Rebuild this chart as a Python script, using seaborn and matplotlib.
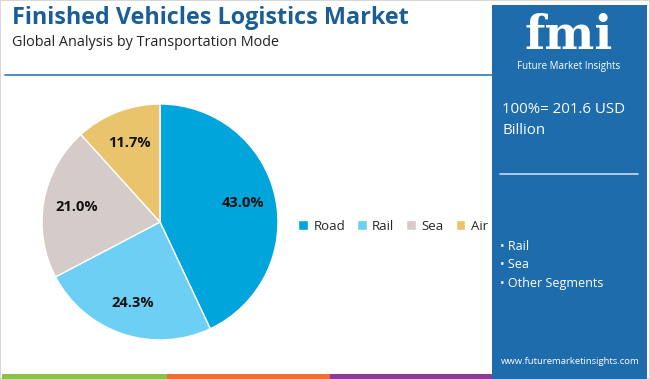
import matplotlib
matplotlib.use("Agg")
import matplotlib.pyplot as plt
import seaborn as sns
from matplotlib.patches import Rectangle
from matplotlib.lines import Line2D

# data
modes = ["Road", "Rail", "Sea", "Air"]
shares = [43.0, 24.3, 21.0, 11.7]
mode_colors = ["#00a5dc", "#6ccff3", "#d5cbc8", "#e9c46c"]
panel_bullets = ["Rail", "Sea", "Other Segments"]
total_text = "100%= 201.6 USD\nBillion"

sns.set_theme(style="white")
plt.rcParams['font.family'] = ['Open Sans', 'DejaVu Sans']

W, H = 650, 379
fig = plt.figure(figsize=(6.5, 3.79), dpi=100)
fig.patch.set_facecolor("white")

def fx(px):
    return px / W

def fy(py):
    return 1 - py / H

# thin grey frame
fig.add_artist(Rectangle((0, 0), 1, 1, transform=fig.transFigure, fill=False,
                         edgecolor="#d8d8d8", linewidth=1.5))

# title block
fig.text(fx(12), fy(18), "Finished Vehicles Logistics Market", fontsize=16.8,
         fontweight="bold", color="#1b5e96", va="center", ha="left")
fig.text(fx(12), fy(42), "Global Analysis by Transportation Mode", fontsize=10.4,
         color="#222222", va="center", ha="left")
fig.add_artist(Line2D([fx(5), fx(492)], [fy(75), fy(75)], transform=fig.transFigure,
                      color="#3d85bd", linewidth=1.3))

# pie
palette = sns.color_palette(mode_colors)
ax = fig.add_axes([fx(42), fy(340), fx(236), 236 / H])
wedges, texts, autotexts = ax.pie(shares, colors=palette, startangle=90, counterclock=False,
                                  autopct="%.1f%%", pctdistance=0.72,
                                  textprops=dict(fontsize=10.5, fontweight="bold", color="#111111"))
ax.set_xlim(-1, 1)
ax.set_ylim(-1, 1)
ax.set_axis_off()

# legend
fig.legend(wedges, modes, loc="center", bbox_to_anchor=(fx(393), fy(226)), ncol=4,
           frameon=False, fontsize=9.5, handlelength=0.75, handleheight=0.75,
           handletextpad=0.4, columnspacing=0.9)

# right panel
fig.add_artist(Rectangle((fx(492), 0), fx(155), fy(5), transform=fig.transFigure,
                         facecolor="#1e6cab", edgecolor="none"))
fig.text(fx(569), fy(36), "fmi", fontsize=34, fontweight="bold", color="white",
         ha="center", va="center", family="DejaVu Serif")
fig.text(fx(569), fy(67), "Future Market Insights", fontsize=7, color="white",
         ha="center", va="center")
fig.text(fx(502), fy(120), total_text, fontsize=10.8, color="white", ha="left", va="center",
         linespacing=1.5)
fig.add_artist(Line2D([fx(500), fx(638)], [fy(174), fy(174)], transform=fig.transFigure,
                      color="#c9dcec", linewidth=1.2))
for i, b in enumerate(panel_bullets):
    fig.text(fx(500), fy(247 + 18 * i), "\u2022 " + b, fontsize=9, color="white",
             ha="left", va="center")
fig.text(fx(570), fy(362), "www.futuremarketinsights.com", fontsize=6.8, color="white",
         ha="center", va="center")

# colour strip along the bottom
for x0, x1, c in [(2, 167, "#8dc04a"), (167, 330, "#ef6d33"), (330, 492, "#8f3a95")]:
    fig.add_artist(Rectangle((fx(x0), 0), fx(x1 - x0), 5 / H, transform=fig.transFigure,
                             facecolor=c, edgecolor="none"))

fig.savefig("out.png", dpi=100)
